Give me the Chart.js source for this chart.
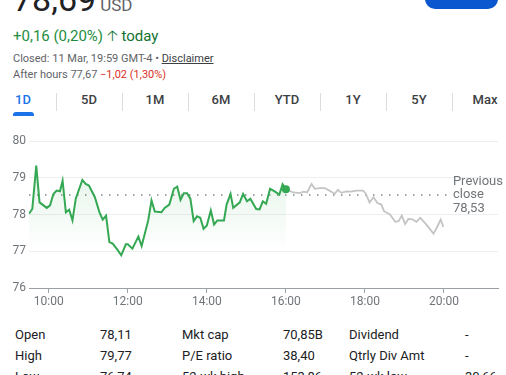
<!DOCTYPE html>
<html>
<head>
<meta charset="utf-8">
<script src="https://cdn.jsdelivr.net/npm/chart.js@4/dist/chart.umd.min.js"></script>
<style>
  html, body { margin: 0; padding: 0; background: #fff; }
  body { width: 506px; height: 375px; position: relative; overflow: hidden; font-family: Roboto, Arial, sans-serif; }
  .abs { position: absolute; white-space: nowrap; }
  .price { left: 13px; top: -21px; font-size: 34px; color: #202124; }
  .price small { font-size: 17px; color: #5f6368; margin-left: 4px; }
  .buy { left: 425px; top: -20px; width: 73px; height: 29px; border-radius: 10px; background: #0b57d0; }
  .change { left: 13px; top: 25px; font-size: 15px; color: #1e8e3e; }
  .change .today { color: #137333; }
  .meta { left: 13px; font-size: 11px; color: #5f6368; }
  .meta u { color: #3c4043; }
  .down { color: #d93025; }
  .tab { top: 92px; width: 66px; text-align: center; font-size: 13px; font-weight: 500; color: #3c4043; }
  .tab.on { color: #1a73e8; }
  .sep { top: 93px; width: 1px; height: 18px; background: #dadce0; }
  .bar { left: 13px; top: 112px; width: 21px; height: 4px; border-radius: 3px 3px 0 0; background: #1a73e8; }
  #wrap { position: absolute; left: 0; top: 125px; width: 506px; height: 190px; }
  .cell { font-size: 13px; color: #202124; }
</style>
</head>
<body>
<div class="abs price">78,69<small>USD</small></div>
<div class="abs buy"></div>
<div class="abs change">+0,16 (0,20%) <span class="today">&#129121; today</span></div>
<div class="abs meta" style="top:52px">Closed: 11 Mar, 19:59 GMT-4 &bull; <u>Disclaimer</u></div>
<div class="abs meta" style="top:68px">After hours 77,67 <span class="down">&minus;1,02 (1,30%)</span></div>

<div id="tabs"></div>
<div class="abs bar"></div>

<div id="wrap"><canvas id="chart"></canvas></div>

<div id="stats"></div>

<script>
// intraday prices, 11 Mar
const sessionTimes = ['09:30', '09:35', '09:41', '09:46', '09:57', '10:02', '10:07', '10:12', '10:17', '10:21',
  '10:26', '10:31', '10:36', '10:41', '10:51', '10:56', '11:01', '11:10', '11:17', '11:22',
  '11:27', '11:32', '11:37', '11:43', '11:50', '11:57', '12:00', '12:07', '12:16', '12:21',
  '12:31', '12:36', '12:41', '12:51', '12:56', '13:03', '13:10', '13:15', '13:20', '13:25',
  '13:30', '13:35', '13:40', '13:45', '13:50', '13:55', '14:00', '14:06', '14:11', '14:16',
  '14:26', '14:30', '14:36', '14:40', '14:50', '14:55', '15:01', '15:06', '15:15', '15:20',
  '15:25', '15:30', '15:36', '15:43', '15:50', '15:55', '16:00'];
const sessionPrices = [78.02, 78.15, 79.33, 78.33, 78.18, 78.25, 78.56, 78.65, 78.63, 78.92,
  78.06, 78.13, 77.84, 78.43, 78.94, 78.83, 78.79, 78.47, 78.06, 77.86,
  77.97, 77.25, 77.21, 77.07, 76.89, 77.19, 77.19, 77.07, 77.40, 77.14,
  77.84, 78.38, 78.08, 78.06, 78.18, 78.27, 78.70, 78.76, 78.40, 78.58,
  78.58, 78.43, 77.82, 77.95, 77.91, 77.61, 77.70, 78.11, 77.73, 77.84,
  77.84, 78.27, 78.56, 78.18, 78.33, 78.56, 78.36, 78.43, 78.15, 78.14,
  78.36, 78.29, 78.70, 78.63, 78.54, 78.82, 78.69];

const afterTimes = ['16:00', '16:11', '16:21', '16:27', '16:32', '16:39', '16:44', '16:51', '16:59', '17:06',
  '17:14', '17:19', '17:24', '17:32', '17:39', '17:47', '17:57', '18:01', '18:07', '18:13',
  '18:19', '18:25', '18:29', '18:38', '18:46', '18:51', '18:56', '19:01', '19:06', '19:12',
  '19:18', '19:24', '19:33', '19:44', '19:49', '19:55', '19:59'];
const afterPrices = [78.69, 78.60, 78.58, 78.62, 78.60, 78.83, 78.70, 78.72, 78.72, 78.65,
  78.56, 78.67, 78.59, 78.63, 78.62, 78.65, 78.65, 78.58, 78.33, 78.47,
  78.31, 78.27, 78.09, 78.00, 77.80, 77.82, 77.97, 77.74, 77.88, 77.87,
  77.80, 77.91, 77.73, 77.48, 77.64, 77.86, 77.66];

const prevClose = 78.53;
const prevCloseEnd = '20:09';
const axisEnd = '21:22';
const timeTicks = ['10:00', '12:00', '14:00', '16:00', '18:00', '20:00'];
const priceTicks = [76, 77, 78, 79, 80];

const rangeTabs = ['1D', '5D', '1M', '6M', 'YTD', '1Y', '5Y', 'Max'];
const statRows = [
  ['Open', '78,11', 'Mkt cap', '70,85B', 'Dividend', '-'],
  ['High', '79,77', 'P/E ratio', '38,40', 'Qtrly Div Amt', '-'],
  ['Low', '76,74', '52-wk high', '153,86', '52-wk low', '30,66']
];

const toMin = t => { const [h, m] = t.split(':').map(Number); return h * 60 + m; };
const pad = n => String(n).padStart(2, '0');
const toLabel = v => pad(Math.floor(v / 60)) + ':' + pad(v % 60);
const fmt = v => v.toFixed(2).replace('.', ',');

// range tabs
const tabs = document.getElementById('tabs');
rangeTabs.forEach((name, i) => {
  const t = document.createElement('div');
  t.className = 'abs tab' + (i === 0 ? ' on' : '');
  t.style.left = (-10 + 66 * i) + 'px';
  t.textContent = name;
  tabs.appendChild(t);
  if (i > 0) {
    const s = document.createElement('div');
    s.className = 'abs sep';
    s.style.left = (-10 + 66 * i) + 'px';
    tabs.appendChild(s);
  }
});

// key stats
const cols = [15, 100, 182, 283, 349, 465];
const stats = document.getElementById('stats');
statRows.forEach((row, r) => {
  row.forEach((txt, c) => {
    const d = document.createElement('div');
    d.className = 'abs cell';
    d.style.left = cols[c] + 'px';
    d.style.top = (327 + 21 * r) + 'px';
    d.textContent = txt;
    stats.appendChild(d);
  });
});

const green = '#34a853';
const tickFont = { family: 'Roboto', size: 12 };

// "Previous close" label beside the dotted line
const prevCloseLabel = {
  id: 'prevCloseLabel',
  afterDatasetsDraw(chart) {
    const { ctx, scales } = chart;
    const x = scales.x.getPixelForValue(toMin(prevCloseEnd)) + 3;
    const y = scales.y.getPixelForValue(prevClose);
    ctx.save();
    ctx.font = '13px Roboto';
    ctx.fillStyle = '#70757a';
    ctx.textAlign = 'left';
    ctx.textBaseline = 'middle';
    ctx.fillText('Previous', x, y - 13.5);
    ctx.fillText('close', x, y);
    ctx.fillText(fmt(prevClose), x, y + 13.5);
    ctx.restore();
  }
};

new Chart(document.getElementById('chart'), {
  type: 'line',
  data: {
    datasets: [
      {
        data: sessionTimes.map((t, i) => ({ x: toMin(t), y: sessionPrices[i] })),
        borderColor: green,
        borderWidth: 2,
        tension: 0,
        fill: 'start',
        backgroundColor: (c) => {
          const area = c.chart.chartArea;
          if (!area) return 'rgba(52,168,83,0.1)';
          const g = c.chart.ctx.createLinearGradient(0, area.top, 0, area.bottom);
          g.addColorStop(0, 'rgba(52,168,83,0.17)');
          g.addColorStop(0.75, 'rgba(52,168,83,0)');
          return g;
        },
        pointRadius: sessionTimes.map((t, i) => i === sessionTimes.length - 1 ? 4 : 0),
        pointBackgroundColor: green,
        pointBorderWidth: 0
      },
      {
        data: afterTimes.map((t, i) => ({ x: toMin(t), y: afterPrices[i] })),
        borderColor: '#c4c4c4',
        borderWidth: 1.8,
        tension: 0,
        pointRadius: 0,
        fill: false
      },
      {
        data: [
          { x: toMin(sessionTimes[0]), y: prevClose },
          { x: toMin(prevCloseEnd), y: prevClose }
        ],
        borderColor: '#80868b',
        borderWidth: 1.3,
        borderDash: [1.5, 6.5],
        pointRadius: 0,
        fill: false
      }
    ]
  },
  options: {
    responsive: true,
    maintainAspectRatio: false,
    animation: false,
    layout: { padding: { top: 16, right: 8, bottom: 5, left: 0 } },
    plugins: { legend: { display: false }, tooltip: { enabled: false } },
    scales: {
      x: {
        type: 'linear',
        min: toMin(sessionTimes[0]),
        max: toMin(axisEnd),
        afterBuildTicks: s => { s.ticks = timeTicks.map(t => ({ value: toMin(t) })); },
        afterFit: s => { s.height = 22; },
        ticks: {
          callback: v => toLabel(v),
          font: tickFont,
          color: '#70757a',
          padding: 2,
          maxRotation: 0
        },
        grid: { drawOnChartArea: false, drawTicks: true, tickLength: 5, color: '#9aa0a6' },
        border: { color: '#9aa0a6' }
      },
      y: {
        min: priceTicks[0],
        max: priceTicks[priceTicks.length - 1],
        afterBuildTicks: s => { s.ticks = priceTicks.map(v => ({ value: v })); },
        afterFit: s => { s.width = 29; },
        ticks: { font: tickFont, color: '#70757a', padding: 3 },
        grid: { color: '#eeeeee', drawTicks: false },
        border: { display: false }
      }
    }
  },
  plugins: [prevCloseLabel]
});
</script>
</body>
</html>
